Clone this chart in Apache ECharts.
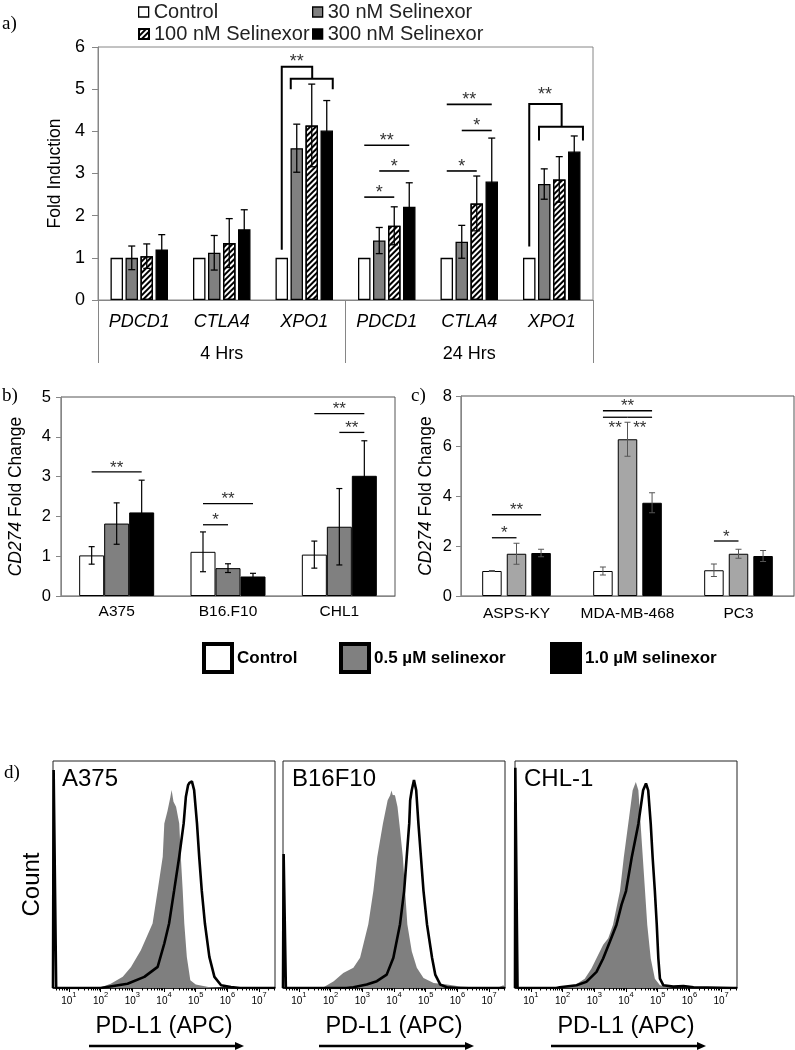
<!DOCTYPE html>
<html><head><meta charset="utf-8">
<script src="https://cdn.jsdelivr.net/npm/echarts@6/dist/echarts.min.js"></script>
<style>html,body{margin:0;padding:0;background:#fff}#c{width:795px;height:1050px}</style>
</head><body><div id="c"></div>
<script>
// ---------- Panel a data ----------
const catsA = ['PDCD1','CTLA4','XPO1','PDCD1','CTLA4','XPO1'];
const timeGroups = ['4 Hrs','24 Hrs'];
const namesA = ['Control','30 nM Selinexor','100 nM Selinexor','300 nM Selinexor'];
const controlA = [1,1,1,1,1,1];
const sel30 = [1.00,1.12,3.60,1.41,1.38,2.75];
const sel30Err = [0.28,0.41,0.57,0.31,0.39,0.36];
const sel100 = [1.04,1.35,4.14,1.76,2.29,2.86];
const sel100Err = [0.29,0.58,0.98,0.45,0.65,0.54];
const sel300 = [1.20,1.68,4.02,2.21,2.81,3.52];
const sel300Err = [0.35,0.46,0.71,0.57,1.03,0.37];
const yTicksA = [0,6,1];
// significance lines: [category, fromBar, toBar, value, label]
const sigLinesA = [[3,0,2,2.44,'*'],[3,1,3,3.06,'*'],[3,0,3,3.67,'**'],[4,0,2,3.06,'*'],[4,1,3,4.02,'*'],[4,0,3,4.64,'**']];
// brackets: [category, [[barPos,value],...]]
const bracketsA = [
  [2, [[0,1.19],[0,5.53],[2.03,5.53],[2.03,5.25]]],
  [2, [[0.6,5.0],[0.6,5.25],[3.4,5.25],[3.4,5.0]]],
  [5, [[0,1.27],[0,4.65],[2.16,4.65],[2.16,4.11]]],
  [5, [[0.65,3.78],[0.65,4.11],[3.58,4.11],[3.58,3.78]]]
];
const bracketStarsA = [[2,1.0,5.72,'**'],[5,1.05,4.93,'**']];

// ---------- Panel b data ----------
const cellsB = ['A375','B16.F10','CHL1'];
const namesBC = ['Control','0.5 µM selinexor','1.0 µM selinexor'];
const ctrlB = [1.02,1.11,1.04];   const ctrlBErr = [0.22,0.50,0.34];
const halfB = [1.82,0.70,1.74];   const halfBErr = [0.52,0.11,0.96];
const oneB  = [2.10,0.49,3.02];   const oneBErr  = [0.81,0.08,0.88];
const sigLinesB = [[0,0,2,3.12,'**'],[1,0,1,1.79,'*'],[1,0,2,2.32,'**'],[2,0,2,4.58,'**'],[2,1,2,4.11,'**']];

// ---------- Panel c data ----------
const cellsC = ['ASPS-KY','MDA-MB-468','PC3'];
const ctrlC = [1.00,1.00,1.03];   const ctrlCErr = [0.02,0.16,0.25];
const halfC = [1.69,6.27,1.69];   const halfCErr = [0.42,0.68,0.18];
const oneC  = [1.72,3.73,1.60];   const oneCErr  = [0.15,0.40,0.22];
// [category, fromBar, toBar, value, label, starBelow]
const sigLinesC = [[0,0,1,2.33,'*',0],[0,0,2,3.25,'**',0],[1,0,2,7.41,'**',0],[1,0,1,7.15,'**',1],[1,1,2,7.15,'**',1],[2,0,1,2.2,'*',0]];

// ---------- Panel d data (x = log10 PD-L1 APC, y = % of max count) ----------
const flowPanels = ['A375','B16F10','CHL-1'];
const decadeLabels = [1,2,3,4,5,6,7];
const a375Gray = [[1.95,0],[2.32,1.9],[2.7,5],[2.96,9.3],[3.27,16.6],[3.64,28.4],[3.80,43],[3.96,57.8],[4.01,72.5],[4.11,78],[4.2,84],[4.24,87.2],[4.3,82],[4.38,79.9],[4.48,72.5],[4.53,57.8],[4.59,43],[4.64,28.4],[4.72,13.7],[4.83,3.4],[5.0,1.5],[5.4,0.4],[5.8,0]];
const a375Sel = [[0.5,0],[0.52,96],[0.58,96],[0.6,0],[2.0,0],[2.85,1.9],[3.38,4.9],[3.80,9.3],[4.01,19.6],[4.16,28.4],[4.32,43],[4.48,57.8],[4.62,72.5],[4.69,84.3],[4.76,89.4],[4.80,90.4],[4.88,91],[4.93,90.4],[4.95,87.2],[5.04,72.5],[5.11,57.8],[5.19,43],[5.29,28.4],[5.43,13.7],[5.59,4.9],[5.80,1.2],[6.11,0.4],[6.4,0],[7.5,0]];
const b16Gray = [[1.75,0],[1.82,0.7],[2.1,3],[2.40,6.6],[2.72,8.9],[2.93,13.3],[3.19,28.1],[3.35,42.8],[3.47,57.6],[3.65,72.4],[3.80,82.7],[3.88,84.9],[3.92,87],[3.96,85],[4.03,84.9],[4.11,79.8],[4.17,72.4],[4.28,57.6],[4.35,42.8],[4.42,28.1],[4.56,16.2],[4.72,8.9],[4.93,4.4],[5.25,2.2],[5.67,1.5],[6.09,0.7],[6.5,0.3],[7.3,0.3],[7.45,1.2],[7.5,0]];
const b16Sel = [[0.5,0],[0.52,59],[0.57,59],[0.59,0],[2.5,0],[2.72,0.3],[3.14,1.5],[3.46,3.0],[3.77,5.9],[3.98,13.3],[4.19,28.1],[4.32,42.8],[4.40,57.6],[4.48,72.4],[4.51,82.7],[4.56,87.1],[4.63,91.6],[4.70,87.1],[4.77,72.4],[4.85,57.6],[4.93,42.8],[5.04,28.1],[5.20,13.3],[5.30,5.9],[5.46,1.5],[5.67,0.3],[6.0,0],[7.5,0]];
const chlGray = [[1.9,0],[2.01,0.3],[2.38,1.2],[2.70,4.1],[2.91,8.6],[3.12,14.5],[3.28,19],[3.44,21.9],[3.59,27.9],[3.81,42.7],[3.93,57.5],[4.07,72.3],[4.21,87.1],[4.31,90.8],[4.39,87.1],[4.46,72.3],[4.53,57.5],[4.60,42.7],[4.67,27.9],[4.78,13],[4.91,4.1],[5.07,1.2],[5.39,0.3],[5.6,0]];
const chlSel = [[0.5,0],[0.51,97],[0.56,97],[0.58,0],[1.8,0],[1.91,0.3],[2.44,1.2],[2.75,2.7],[3.07,7.1],[3.28,13],[3.49,20.4],[3.70,27.9],[3.86,36.7],[4.0,42.7],[4.18,57.5],[4.39,72.3],[4.54,87.1],[4.63,90.1],[4.70,87.1],[4.78,72.3],[4.84,57.5],[4.91,42.7],[4.97,27.9],[5.02,13],[5.07,4.1],[5.18,1.2],[5.49,0.6],[5.81,0.9],[6.13,0.3],[7.39,0],[7.5,0]];

// ---------- helpers ----------
const FONT = 'Liberation Sans, Arial, sans-serif';
const SERIF = 'Liberation Serif, Times New Roman, serif';
const grayAx = '#868686';

function errRender(spacing, nBars, color, cap, lw) {
  return function (params, api) {
    const c = api.value(0), b = api.value(1), m = api.value(2), e = api.value(3);
    const x = api.coord([c, m])[0] + (b - (nBars - 1) / 2) * spacing;
    const yT = api.coord([c, m + e])[1], yB = api.coord([c, m - e])[1];
    const st = { stroke: color, lineWidth: lw };
    return { type: 'group', children: [
      { type: 'line', shape: { x1: x, y1: yT, x2: x, y2: yB }, style: st },
      { type: 'line', shape: { x1: x - cap / 2, y1: yT, x2: x + cap / 2, y2: yT }, style: st },
      { type: 'line', shape: { x1: x - cap / 2, y1: yB, x2: x + cap / 2, y2: yB }, style: st }
    ] };
  };
}
function annoRender(items, spacing, nBars, lw, fs) {
  return function (params, api) {
    const it = items[params.dataIndex];
    const X = (cat, pos) => api.coord([cat, 0])[0] + (pos - (nBars - 1) / 2) * spacing;
    const Y = v => api.coord([0, v])[1];
    const children = [];
    if (it.path) {
      children.push({ type: 'polyline', shape: { points: it.path.map(p => [X(it.cat, p[0]), Y(p[1])]) },
        style: { stroke: '#000', lineWidth: it.lw || lw, fill: null } });
    }
    if (it.text) {
      const tx = X(it.cat, it.tpos[0]);
      const ty = Y(it.tpos[1]) + (it.dy || 0);
      children.push({ type: 'text', style: { text: it.text, x: tx, y: ty, align: 'center', verticalAlign: 'middle',
        textAlign: 'center', textVerticalAlign: 'middle', font: fs + 'px ' + FONT, fill: '#333' } });
    }
    return { type: 'group', children };
  };
}
function linesToAnno(lines) {
  return lines.map(l => ({ cat: l[0], path: [[l[1], l[3]], [l[2], l[3]]], text: l[4],
    tpos: [(l[1] + l[2]) / 2, l[3]], dy: l[5] ? 11 : -4 }));
}

const annoA = linesToAnno(sigLinesA)
  .concat(bracketsA.map(b => ({ cat: b[0], path: b[1], lw: 2 })))
  .concat(bracketStarsA.map(s => ({ cat: s[0], text: s[3], tpos: [s[1], s[2]], dy: 3 })));
const annoB = linesToAnno(sigLinesB);
const annoC = linesToAnno(sigLinesC);

const errA = [];
[[sel30, sel30Err], [sel100, sel100Err], [sel300, sel300Err]].forEach((p, k) =>
  p[0].forEach((v, i) => errA.push([i, k + 1, v, p[1][i]])));
const errB = [];
[[ctrlB, ctrlBErr], [halfB, halfBErr], [oneB, oneBErr]].forEach((p, k) =>
  p[0].forEach((v, i) => errB.push([i, k, v, p[1][i]])));
const errC = [];
[[ctrlC, ctrlCErr], [halfC, halfCErr], [oneC, oneCErr]].forEach((p, k) =>
  p[0].forEach((v, i) => errC.push([i, k, v, p[1][i]])));

const hatch = { symbol: 'rect', symbolSize: 1, dashArrayX: [1, 0], dashArrayY: [2, 2], rotation: -Math.PI / 4, color: '#000' };
const styleA = [
  { color: '#fff', borderColor: '#000', borderWidth: 1.3 },
  { color: '#808080', borderColor: '#000', borderWidth: 1.3 },
  { color: '#fff', borderColor: '#000', borderWidth: 1.3, decal: hatch },
  { color: '#000', borderColor: '#000', borderWidth: 1.3 }
];
const valsA = [controlA, sel30, sel100, sel300];

// minor ticks of the log axes
const minorTicks = [];
for (let n = 0; n <= 7; n++) for (let k = 2; k <= 9; k++) { const v = n + Math.log10(k); if (v > 0.5 && v < 7.5) minorTicks.push(v); }

const flowGray = [a375Gray, b16Gray, chlGray];
const flowSel = [a375Sel, b16Sel, chlSel];
const flowLeft = [53, 283, 515];

const grids = [
  { left: 98, top: 47, width: 495, height: 253, show: true, borderColor: grayAx, borderWidth: 1 },
  { left: 61, top: 397, width: 334, height: 199, show: true, borderColor: '#555', borderWidth: 1 },
  { left: 461, top: 396, width: 333, height: 200, show: true, borderColor: '#555', borderWidth: 1 }
];
flowLeft.forEach(l => grids.push({ left: l, top: 761, width: 222, height: 227, show: true, borderColor: '#222', borderWidth: 1 }));

const lbl = (fs, extra) => Object.assign({ fontFamily: FONT, fontSize: fs, color: '#000' }, extra || {});
const xAxes = [
  { type: 'category', gridIndex: 0, data: catsA, position: 'bottom', axisLine: { lineStyle: { color: grayAx } },
    axisTick: { show: false }, axisLabel: lbl(18, { fontStyle: 'italic', margin: 13, interval: 0 }) },
  { type: 'category', gridIndex: 0, data: timeGroups, position: 'bottom', axisLine: { show: false },
    axisTick: { show: true, length: 63, lineStyle: { color: grayAx } }, axisLabel: lbl(18, { margin: 45, interval: 0 }) },
  { type: 'category', gridIndex: 1, data: cellsB, axisLine: { lineStyle: { color: grayAx } },
    axisTick: { length: 6, lineStyle: { color: '#bbb' } }, axisLabel: lbl(15.5, { margin: 8, interval: 0 }) },
  { type: 'category', gridIndex: 2, data: cellsC, axisLine: { lineStyle: { color: grayAx } },
    axisTick: { length: 6, lineStyle: { color: '#bbb' } }, axisLabel: lbl(15.5, { margin: 10, interval: 0 }) }
];
flowLeft.forEach((l, i) => {
  xAxes.push({ type: 'value', gridIndex: 3 + i, min: 0.5, max: 7.5, position: 'bottom',
    name: 'PD-L1 (APC)', nameLocation: 'middle', nameGap: 27, nameTextStyle: lbl(23.5),
    axisLine: { lineStyle: { color: '#000', width: 1.5 } }, splitLine: { show: false },
    axisTick: { customValues: decadeLabels, length: 4, lineStyle: { color: '#000' } },
    axisLabel: { customValues: decadeLabels, margin: 3, formatter: v => '{b|10}{s|' + v + '}',
      rich: { b: { fontFamily: FONT, fontSize: 10, color: '#000', verticalAlign: 'bottom', lineHeight: 15 },
              s: { fontFamily: FONT, fontSize: 7.5, color: '#000', verticalAlign: 'top', lineHeight: 15 } } } });
});
flowLeft.forEach((l, i) => {
  xAxes.push({ type: 'value', gridIndex: 3 + i, min: 0.5, max: 7.5, position: 'bottom',
    axisLine: { show: false }, splitLine: { show: false }, axisLabel: { show: false },
    axisTick: { customValues: minorTicks, length: 2.5, lineStyle: { color: '#000' } } });
});

const italicRich = { rich: { i: { fontStyle: 'italic', fontSize: 17.5, fontFamily: FONT, color: '#000' } } };
const yAxes = [
  { type: 'value', gridIndex: 0, min: yTicksA[0], max: yTicksA[1], interval: yTicksA[2], name: 'Fold Induction',
    nameLocation: 'middle', nameGap: 33, nameTextStyle: lbl(17.5),
    axisLine: { show: true, lineStyle: { color: grayAx } }, axisTick: { show: true, length: 6, lineStyle: { color: grayAx } },
    splitLine: { show: false }, axisLabel: lbl(18, { margin: 13 }) },
  { type: 'value', gridIndex: 1, min: 0, max: 5, interval: 1, name: '{i|CD274} Fold Change',
    nameLocation: 'middle', nameGap: 36, nameTextStyle: lbl(17.5, italicRich),
    axisLine: { show: true, lineStyle: { color: grayAx } }, axisTick: { show: true, length: 5, lineStyle: { color: grayAx } },
    splitLine: { show: false }, axisLabel: lbl(16.5, { margin: 10 }) },
  { type: 'value', gridIndex: 2, min: 0, max: 8, interval: 2, name: '{i|CD274} Fold Change',
    nameLocation: 'middle', nameGap: 26, nameTextStyle: lbl(17.5, italicRich),
    axisLine: { show: true, lineStyle: { color: grayAx } }, axisTick: { show: true, length: 5, lineStyle: { color: grayAx } },
    splitLine: { show: false }, axisLabel: lbl(16.5, { margin: 9 }) }
];
flowLeft.forEach((l, i) => {
  yAxes.push({ type: 'value', gridIndex: 3 + i, min: 0, max: 100, axisLine: { show: false }, axisTick: { show: false },
    axisLabel: { show: false }, splitLine: { show: false },
    name: i === 0 ? 'Count' : '', nameLocation: 'middle', nameGap: 9, nameTextStyle: lbl(24, { padding: [0, 20, 0, 0] }) });
});

const series = [];
valsA.forEach((d, k) => series.push({ type: 'bar', name: namesA[k], xAxisIndex: 0, yAxisIndex: 0, data: d,
  barWidth: 12.5, barGap: '20%', itemStyle: styleA[k] }));
series.push({ type: 'custom', xAxisIndex: 0, yAxisIndex: 0, data: errA, encode: { x: 0, y: 2 }, z: 5, clip: false,
  renderItem: errRender(15, 4, '#000', 7, 1.3) });
series.push({ type: 'custom', xAxisIndex: 0, yAxisIndex: 0, data: annoA.map(a => [a.cat, 1]), encode: { x: 0, y: 1 }, z: 6, clip: false,
  renderItem: annoRender(annoA, 15, 4, 1.6, 18) });

const styleB = [
  { color: '#fff', borderColor: '#000', borderWidth: 1 },
  { color: '#808080', borderColor: '#000', borderWidth: 1 },
  { color: '#000', borderColor: '#000', borderWidth: 1 }
];
const styleC = [
  { color: '#fff', borderColor: '#000', borderWidth: 1 },
  { color: '#a6a6a6', borderColor: '#000', borderWidth: 1 },
  { color: '#000', borderColor: '#000', borderWidth: 1 }
];
[ctrlB, halfB, oneB].forEach((d, k) => series.push({ type: 'bar', name: namesBC[k], xAxisIndex: 2, yAxisIndex: 1, data: d,
  barWidth: 25, barGap: '0%', itemStyle: styleB[k] }));
series.push({ type: 'custom', xAxisIndex: 2, yAxisIndex: 1, data: errB, encode: { x: 0, y: 2 }, z: 5, clip: false,
  renderItem: errRender(25, 3, '#000', 6, 1.2) });
series.push({ type: 'custom', xAxisIndex: 2, yAxisIndex: 1, data: annoB.map(a => [a.cat, 1]), encode: { x: 0, y: 1 }, z: 6, clip: false,
  renderItem: annoRender(annoB, 25, 3, 1.3, 17) });
[ctrlC, halfC, oneC].forEach((d, k) => series.push({ type: 'bar', name: namesBC[k], xAxisIndex: 3, yAxisIndex: 2, data: d,
  barWidth: 19.5, barGap: '26%', itemStyle: styleC[k] }));
series.push({ type: 'custom', xAxisIndex: 3, yAxisIndex: 2, data: errC, encode: { x: 0, y: 2 }, z: 5, clip: false,
  renderItem: errRender(24.57, 3, '#555', 6, 1) });
series.push({ type: 'custom', xAxisIndex: 3, yAxisIndex: 2, data: annoC.map(a => [a.cat, 1]), encode: { x: 0, y: 1 }, z: 6, clip: false,
  renderItem: annoRender(annoC, 24.57, 3, 1.3, 17) });

flowLeft.forEach((l, i) => {
  series.push({ type: 'line', name: 'Untreated', xAxisIndex: 4 + i, yAxisIndex: 3 + i, data: flowGray[i], symbol: 'none',
    lineStyle: { width: 0, color: '#7f7f7f' }, itemStyle: { color: '#7f7f7f' }, areaStyle: { color: '#7f7f7f', opacity: 1 }, z: 2 });
  series.push({ type: 'line', name: 'Selinexor', xAxisIndex: 4 + i, yAxisIndex: 3 + i, data: flowSel[i], symbol: 'none',
    lineStyle: { width: 2.6, color: '#000' }, itemStyle: { color: '#000' }, z: 3 });
});

const legendText = lbl(20, { color: '#222' });
const legends = [
  { data: [{ name: namesA[0], itemStyle: styleA[0] }], left: 138, top: 2 },
  { data: [{ name: namesA[1], itemStyle: styleA[1] }], left: 312, top: 2 },
  { data: [{ name: namesA[2] }], left: 138, top: 24 },
  { data: [{ name: namesA[3], itemStyle: styleA[3] }], left: 312, top: 24 }
].map(o => Object.assign({ icon: 'rect', itemWidth: 10, itemHeight: 10, selectedMode: false, textStyle: legendText, padding: 0 }, o));
const bigLeg = [
  { name: namesBC[0], color: '#fff', left: 202 },
  { name: namesBC[1], color: '#808080', left: 339 },
  { name: namesBC[2], color: '#000', left: 550 }
];
bigLeg.forEach(b => legends.push({ data: [{ name: b.name, itemStyle: { color: b.color, borderColor: '#000', borderWidth: 4 } }],
  left: b.left, top: 642, icon: 'rect', itemWidth: 28, itemHeight: 28, selectedMode: false, padding: 0,
  textStyle: lbl(17, { fontWeight: 'bold' }) }));

const titles = [
  { text: 'a)', left: 2, top: 15 }, { text: 'b)', left: 2, top: 387 }, { text: 'c)', left: 411, top: 387 }, { text: 'd)', left: 4, top: 764 }
].map(t => Object.assign({ padding: 0, textStyle: { fontFamily: SERIF, fontSize: 19, fontWeight: 'normal', color: '#000' } }, t));
flowPanels.forEach((n, i) => titles.push({ text: n, left: flowLeft[i] + 9, top: 767, padding: 0,
  textStyle: { fontFamily: FONT, fontSize: 24, fontWeight: 'normal', color: '#000' } }));

const graphics = [];
flowLeft.forEach(l => {
  graphics.push({ type: 'line', shape: { x1: l + 36, y1: 1046, x2: l + 184, y2: 1046 }, style: { stroke: '#000', lineWidth: 2.5 } });
  graphics.push({ type: 'polygon', shape: { points: [[l + 182, 1042], [l + 191, 1046], [l + 182, 1050]] }, style: { fill: '#000' } });
});

const chart = echarts.init(document.getElementById('c'), null, { renderer: 'canvas' });
chart.setOption({
  animation: false, backgroundColor: '#fff',
  title: titles, legend: legends, grid: grids, xAxis: xAxes, yAxis: yAxes, series: series, graphic: graphics
});
</script></body></html>
